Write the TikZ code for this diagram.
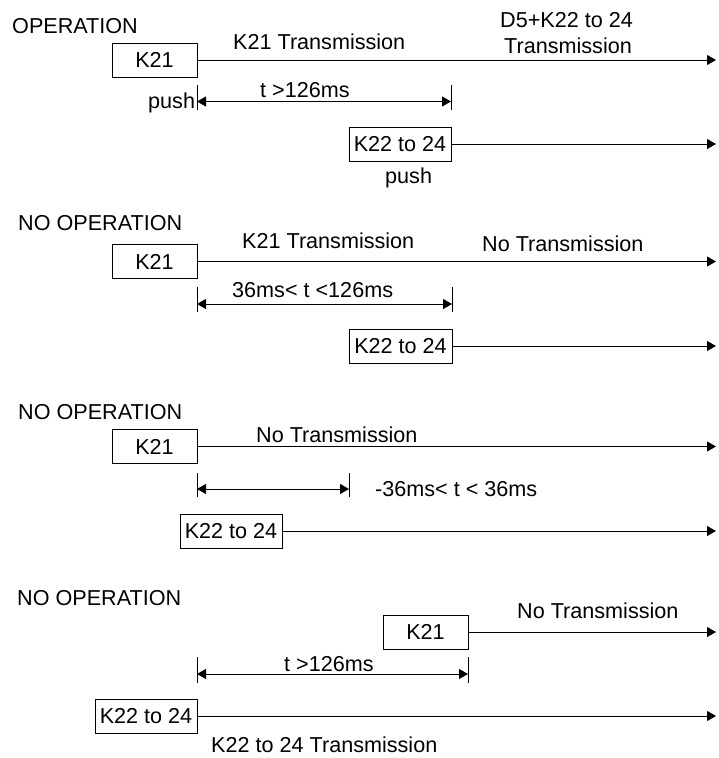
\documentclass[tikz,border=0pt]{standalone}
\usepackage{fontspec}
\setmainfont{Liberation Sans}
\usetikzlibrary{arrows.meta}
\begin{document}
\begin{tikzpicture}[x=1pt,y=-1pt,
  every node/.style={font=\fontsize{21.6}{24}\selectfont},
  lbl/.style={anchor=base west,inner sep=0pt},
  keybox/.style={draw,line width=1pt,minimum height=34pt,inner sep=0pt},
  sig/.style={line width=1pt,-{Triangle[length=9pt,width=10pt]}},
  dim/.style={line width=1pt,{Triangle[length=9pt,width=10pt]}-{Triangle[length=9pt,width=10pt]}},
  tick/.style={line width=1pt}]
\useasboundingbox (0,0) rectangle (718,758);
% ---------- Panel 1 ----------
\node[lbl] (t1) at (12,33) {OPERATION};
\node[keybox,minimum width=85pt] (a1) at (154.5,60) {K21};
\coordinate (a1e) at (716,60);
\draw[sig] (a1.east) -- (a1e);
\node[lbl] (a1t) at (233,49) {K21 Transmission};
\node[lbl] (a1u) at (500,27) {D5+K22 to 24};
\node[lbl] (a1v) at (504,53) {Transmission};
\coordinate (d1a) at (197,85); \coordinate (d1b) at (197,110);
\coordinate (d1c) at (451,85); \coordinate (d1d) at (451,110);
\coordinate (d1l) at (197,101.5); \coordinate (d1r) at (451,101.5);
\draw[tick] (d1a) -- (d1b);
\draw[tick] (d1c) -- (d1d);
\draw[dim] (d1l) -- (d1r);
\node[lbl] (d1t) at (260,97) {t >126ms};
\node[lbl] (p1) at (148,108) {push};
\node[keybox,minimum width=102pt] (b1) at (400,144) {K22 to 24};
\coordinate (b1e) at (716,144);
\draw[sig] (b1.east) -- (b1e);
\node[lbl] (p2) at (385,183) {push};
% ---------- Panel 2 ----------
\node[lbl] (t2) at (18,230) {NO OPERATION};
\node[keybox,minimum width=85pt] (a2) at (154.5,261.5) {K21};
\coordinate (a2e) at (716,261.5);
\draw[sig] (a2.east) -- (a2e);
\node[lbl] (a2t) at (242,248) {K21 Transmission};
\node[lbl] (a2u) at (482,251) {No Transmission};
\coordinate (d2a) at (197,287); \coordinate (d2b) at (197,312);
\coordinate (d2c) at (452,287); \coordinate (d2d) at (452,312);
\coordinate (d2l) at (197,304); \coordinate (d2r) at (452,304);
\draw[tick] (d2a) -- (d2b);
\draw[tick] (d2c) -- (d2d);
\draw[dim] (d2l) -- (d2r);
\node[lbl] (d2t) at (232,297) {36ms< t <126ms};
\node[keybox,minimum width=103pt] (b2) at (400.5,346) {K22 to 24};
\coordinate (b2e) at (716,346);
\draw[sig] (b2.east) -- (b2e);
% ---------- Panel 3 ----------
\node[lbl] (t3) at (18,419) {NO OPERATION};
\node[keybox,minimum width=85pt] (a3) at (154.5,446.5) {K21};
\coordinate (a3e) at (716,446.5);
\draw[sig] (a3.east) -- (a3e);
\node[lbl] (a3t) at (256,442) {No Transmission};
\coordinate (d3a) at (197,473); \coordinate (d3b) at (197,497);
\coordinate (d3c) at (349,473); \coordinate (d3d) at (349,497);
\coordinate (d3l) at (197,489); \coordinate (d3r) at (349,489);
\draw[tick] (d3a) -- (d3b);
\draw[tick] (d3c) -- (d3d);
\draw[dim] (d3l) -- (d3r);
\node[lbl] (d3t) at (375,496) {-36ms< t < 36ms};
\node[keybox,minimum width=102pt] (b3) at (231,531) {K22 to 24};
\coordinate (b3e) at (716,531);
\draw[sig] (b3.east) -- (b3e);
% ---------- Panel 4 ----------
\node[lbl] (t4) at (17,605) {NO OPERATION};
\node[keybox,minimum width=85pt] (a4) at (425.5,632) {K21};
\coordinate (a4e) at (716,632);
\draw[sig] (a4.east) -- (a4e);
\node[lbl] (a4t) at (517,618) {No Transmission};
\coordinate (d4a) at (197,657); \coordinate (d4b) at (197,683);
\coordinate (d4c) at (468,657); \coordinate (d4d) at (468,683);
\coordinate (d4l) at (197,674); \coordinate (d4r) at (468,674);
\draw[tick] (d4a) -- (d4b);
\draw[tick] (d4c) -- (d4d);
\draw[dim] (d4l) -- (d4r);
\node[lbl] (d4t) at (284,671) {t >126ms};
\node[keybox,minimum width=102pt] (b4) at (146,716) {K22 to 24};
\coordinate (b4e) at (716,716);
\draw[sig] (b4.east) -- (b4e);
\node[lbl] (b4t) at (211,752) {K22 to 24 Transmission};
\end{tikzpicture}
\end{document}
